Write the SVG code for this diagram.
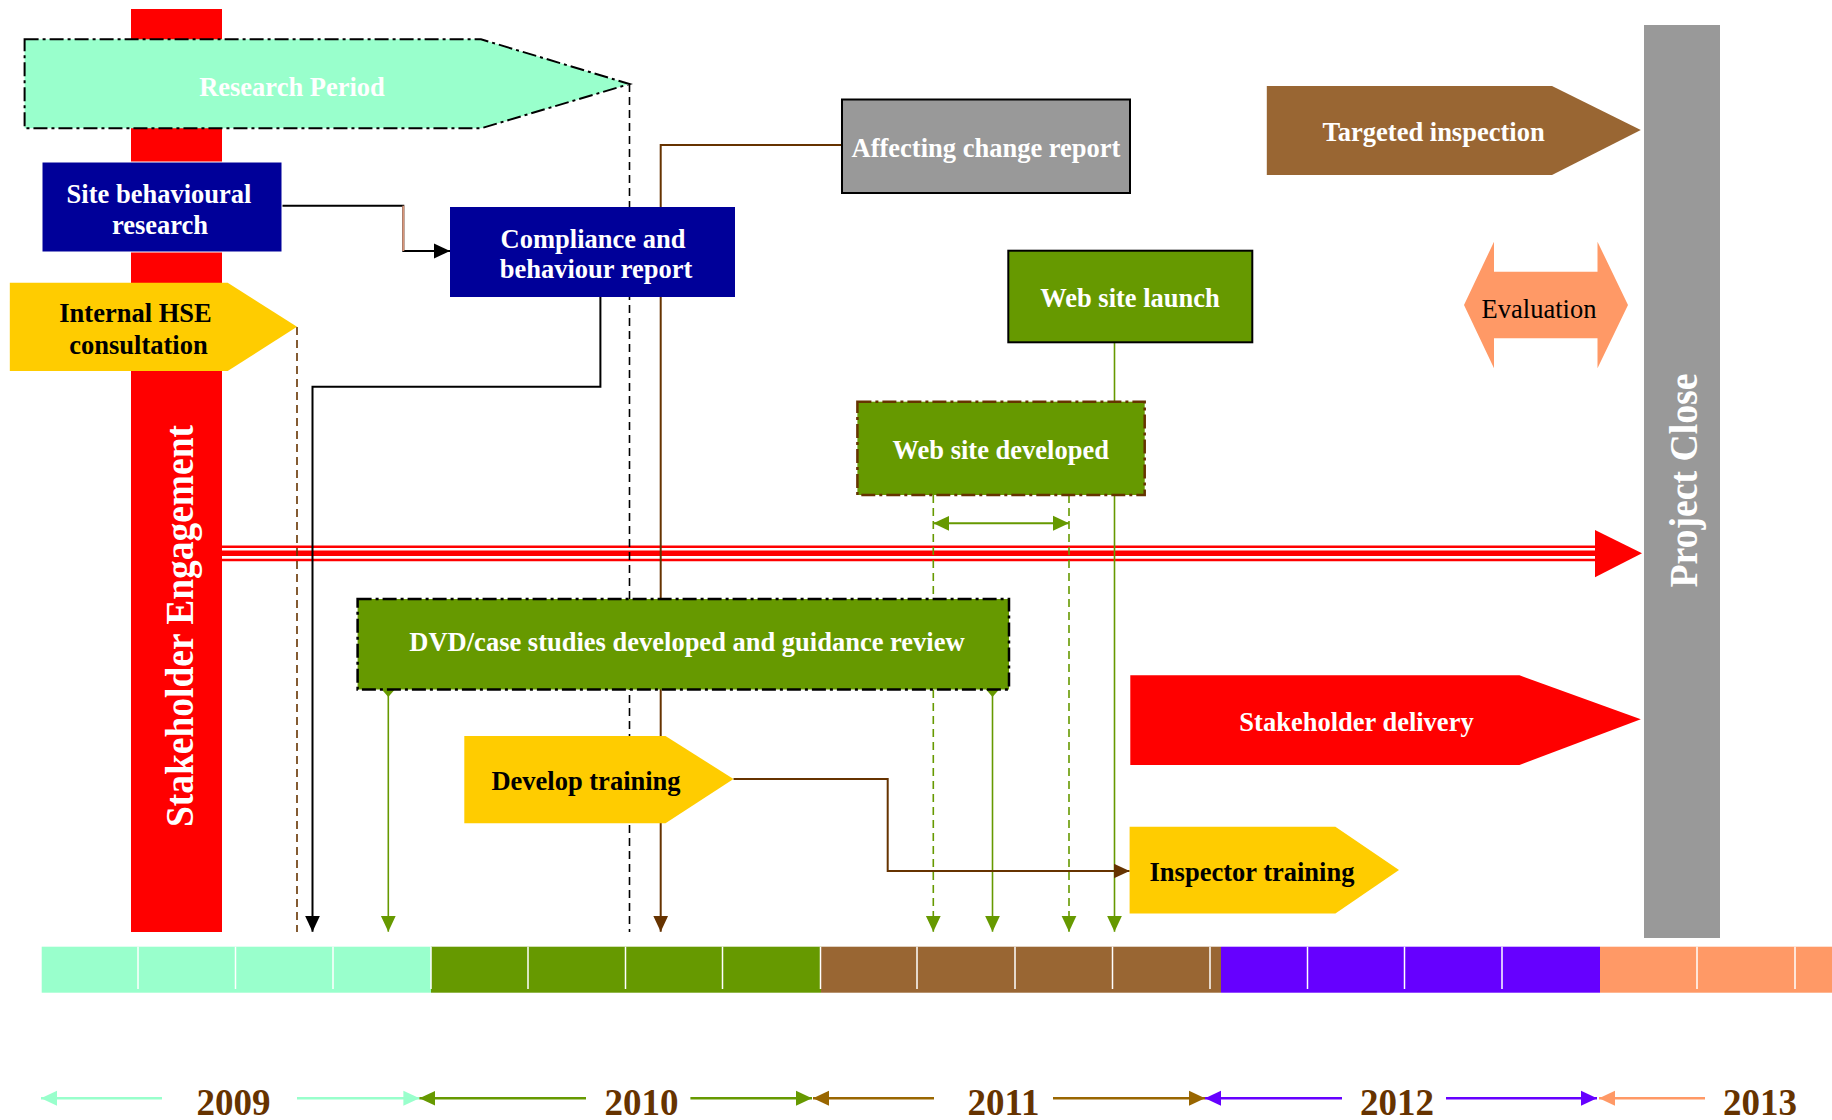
<svg xmlns="http://www.w3.org/2000/svg" width="1832" height="1120" viewBox="0 0 1832 1120">
<style>
  .lbl{font-family:"Liberation Serif","Times New Roman",serif;font-weight:bold;font-size:26.5px;text-anchor:middle}
  .w{fill:#ffffff}
  .k{fill:#000000}
  .reg{font-weight:normal}
  .yr{font-family:"Liberation Serif","Times New Roman",serif;font-weight:bold;font-size:37px;fill:#663300;text-anchor:middle}
  .big{font-family:"Liberation Serif","Times New Roman",serif;font-weight:bold;font-size:40px;fill:#ffffff;text-anchor:middle}
  .div{stroke:#ffffff;stroke-width:1.5}
  .c{fill:none}
  .blk{stroke:#000000;stroke-width:2}
  .brn{stroke:#663300;stroke-width:2}
  .grn{stroke:#669900;stroke-width:1.6}
  .dash{stroke-dasharray:8,5}
  .yl{stroke-width:2.5;fill:none}
</style>
<defs>
  <marker id="ah-k" markerUnits="userSpaceOnUse" viewBox="0 0 16 16" refX="16" refY="8" markerWidth="16" markerHeight="16" orient="auto"><path d="M0,0.5 L16,8 L0,15.5 z" fill="#000000"/></marker>
  <marker id="ah-br" markerUnits="userSpaceOnUse" viewBox="0 0 16 16" refX="16" refY="8" markerWidth="16" markerHeight="16" orient="auto"><path d="M0,0.5 L16,8 L0,15.5 z" fill="#663300"/></marker>
  <marker id="ah-g" markerUnits="userSpaceOnUse" viewBox="0 0 16 16" refX="16" refY="8" markerWidth="16" markerHeight="16" orient="auto-start-reverse"><path d="M0,0.5 L16,8 L0,15.5 z" fill="#669900"/></marker>
  <marker id="tail-g" markerUnits="userSpaceOnUse" viewBox="0 -7 9 14" refX="0" refY="0" markerWidth="9" markerHeight="14" orient="auto"><path d="M0,-7 L8,0 L0,7 z" fill="#669900"/></marker>
  <marker id="ah-mint" markerUnits="userSpaceOnUse" viewBox="0 0 16 16" refX="16" refY="8" markerWidth="16" markerHeight="16" orient="auto-start-reverse"><path d="M0,0.5 L16,8 L0,15.5 z" fill="#99FFCC"/></marker>
  <marker id="ah-gold" markerUnits="userSpaceOnUse" viewBox="0 0 16 16" refX="16" refY="8" markerWidth="16" markerHeight="16" orient="auto-start-reverse"><path d="M0,0.5 L16,8 L0,15.5 z" fill="#996600"/></marker>
  <marker id="ah-pur" markerUnits="userSpaceOnUse" viewBox="0 0 16 16" refX="16" refY="8" markerWidth="16" markerHeight="16" orient="auto-start-reverse"><path d="M0,0.5 L16,8 L0,15.5 z" fill="#6600FF"/></marker>
  <marker id="ah-sal" markerUnits="userSpaceOnUse" viewBox="0 0 16 16" refX="16" refY="8" markerWidth="16" markerHeight="16" orient="auto-start-reverse"><path d="M0,0.5 L16,8 L0,15.5 z" fill="#FF9966"/></marker>
</defs>

<rect width="1832" height="1120" fill="#ffffff"/>

<g id="stakeholder-engagement">
  <rect x="131" y="9" width="91" height="923" fill="#FF0000"/>
  <text class="big" transform="translate(193,626) rotate(-90)" textLength="402" lengthAdjust="spacingAndGlyphs">Stakeholder Engagement</text>
</g>

<g id="project-close">
  <rect x="1644" y="25" width="76" height="913" fill="#999999"/>
  <text class="big" transform="translate(1697,480.5) rotate(-90)" textLength="214" lengthAdjust="spacingAndGlyphs">Project Close</text>
</g>

<g id="timeline">
  <rect x="41.7" y="946.7" width="389.3" height="46" fill="#99FFCC"/>
  <rect x="431" y="946.7" width="390" height="46" fill="#669900"/>
  <rect x="821" y="946.7" width="400" height="46" fill="#996633"/>
  <rect x="1221" y="946.7" width="379" height="46" fill="#6600FF"/>
  <rect x="1600" y="946.7" width="232" height="46" fill="#FF9966"/>
  <g class="div">
    <line x1="138" y1="946.7" x2="138" y2="989"/>
    <line x1="235.5" y1="946.7" x2="235.5" y2="989"/>
    <line x1="333" y1="946.7" x2="333" y2="989"/>
    <line x1="431" y1="946.7" x2="431" y2="989"/>
    <line x1="528" y1="946.7" x2="528" y2="989"/>
    <line x1="625.5" y1="946.7" x2="625.5" y2="989"/>
    <line x1="722.5" y1="946.7" x2="722.5" y2="989"/>
    <line x1="820.5" y1="946.7" x2="820.5" y2="989"/>
    <line x1="917" y1="946.7" x2="917" y2="989"/>
    <line x1="1015" y1="946.7" x2="1015" y2="989"/>
    <line x1="1112.5" y1="946.7" x2="1112.5" y2="989"/>
    <line x1="1210" y1="946.7" x2="1210" y2="989"/>
    <line x1="1307.5" y1="946.7" x2="1307.5" y2="989"/>
    <line x1="1404.5" y1="946.7" x2="1404.5" y2="989"/>
    <line x1="1502" y1="946.7" x2="1502" y2="989"/>
    <line x1="1697" y1="946.7" x2="1697" y2="989"/>
    <line x1="1795" y1="946.7" x2="1795" y2="989"/>
  </g>
</g>

<g id="years">
  <path class="yl" stroke="#99FFCC" d="M41,1098.3 H162" marker-start="url(#ah-mint)"/>
  <path class="yl" stroke="#99FFCC" d="M297,1098.3 H419.4" marker-end="url(#ah-mint)"/>
  <text class="yr" x="233.6" y="1115">2009</text>
  <path class="yl" stroke="#669900" d="M419.4,1098.3 H586" marker-start="url(#ah-g)"/>
  <path class="yl" stroke="#669900" d="M690.4,1098.3 H812" marker-end="url(#ah-g)"/>
  <text class="yr" x="641.6" y="1115">2010</text>
  <path class="yl" stroke="#996600" d="M813,1098.3 H934" marker-start="url(#ah-gold)"/>
  <path class="yl" stroke="#996600" d="M1053,1098.3 H1205" marker-end="url(#ah-gold)"/>
  <text class="yr" x="1003.6" y="1115">2011</text>
  <path class="yl" stroke="#6600FF" d="M1205,1098.3 H1342" marker-start="url(#ah-pur)"/>
  <path class="yl" stroke="#6600FF" d="M1446,1098.3 H1597" marker-end="url(#ah-pur)"/>
  <text class="yr" x="1397" y="1115">2012</text>
  <path class="yl" stroke="#FF9966" d="M1599,1098.3 H1705" marker-start="url(#ah-sal)"/>
  <text class="yr" x="1760" y="1115">2013</text>
</g>

<g id="connectors">
  <g id="engagement-arrow">
    <line x1="222" y1="546.7" x2="1596" y2="546.7" stroke="#FF0000" stroke-width="2.5"/>
    <line x1="222" y1="553.2" x2="1596" y2="553.2" stroke="#FF0000" stroke-width="5.5"/>
    <line x1="222" y1="560" x2="1596" y2="560" stroke="#FF0000" stroke-width="2.5"/>
    <polygon points="1595,530 1642,553.3 1595,577.3" fill="#FF0000"/>
  </g>
  <path class="c blk" d="M282,205.7 H403.3 V251 H450" marker-end="url(#ah-k)"/>
  <line x1="403.3" y1="205.7" x2="403.3" y2="251" stroke="#D9967A" stroke-width="2"/>
  <path class="c blk" d="M600.4,297 V386.7 H312.5 V931.7" marker-end="url(#ah-k)"/>
  <path class="c brn" d="M842,145 H660.7 V931.7" marker-end="url(#ah-br)"/>
  <path class="c" stroke="#000000" stroke-width="1.6" stroke-dasharray="8,5" d="M629.5,84 V932"/>
  <path class="c" stroke="#663300" stroke-width="1.6" stroke-dasharray="8,5" d="M297,327 V932"/>
  <path class="c grn" d="M388.3,689 V931.7" marker-start="url(#tail-g)" marker-end="url(#ah-g)"/>
  <path class="c grn" d="M992.5,689 V931.7" marker-start="url(#tail-g)" marker-end="url(#ah-g)"/>
  <path class="c grn dash" d="M933.3,495 V931.7" marker-end="url(#ah-g)"/>
  <path class="c grn dash" d="M1069,495 V931.7" marker-end="url(#ah-g)"/>
  <path class="c" stroke="#669900" stroke-width="2" d="M933.3,523.3 H1069" marker-start="url(#ah-g)" marker-end="url(#ah-g)"/>
  <path class="c grn" d="M1114.5,342 V931.7" marker-end="url(#ah-g)"/>
  <path class="c brn" d="M733.5,779 H887.7 V871 H1129.6" marker-end="url(#ah-br)"/>
</g>

<g id="research-period">
  <polygon points="24.6,39.3 481,39.3 629.5,84 481,128.3 24.6,128.3" fill="#99FFCC" stroke="#000000" stroke-width="2" stroke-dasharray="14,4,3,4"/>
  <text class="lbl w" x="292" y="95.5">Research Period</text>
</g>

<g id="site-behavioural-research">
  <rect x="42" y="162" width="240" height="90" fill="#000099" stroke="#ffffff" stroke-width="1"/>
  <text class="lbl w" x="159" y="202.5">Site behavioural</text>
  <text class="lbl w" x="160" y="233.5">research</text>
</g>

<g id="compliance-behaviour-report">
  <rect x="450" y="207" width="285" height="90" fill="#000099"/>
  <text class="lbl w" x="593" y="247.5">Compliance and</text>
  <text class="lbl w" x="596" y="278">behaviour report</text>
</g>

<g id="internal-hse-consultation">
  <polygon points="9.8,282.7 227.7,282.7 297,326.7 227.7,371 9.8,371" fill="#FFCC00"/>
  <text class="lbl k" x="135.5" y="322">Internal HSE</text>
  <text class="lbl k" x="138.5" y="353.5">consultation</text>
</g>

<g id="affecting-change-report">
  <rect x="842" y="99.5" width="288" height="93.5" fill="#999999" stroke="#000000" stroke-width="2"/>
  <text class="lbl w" x="986" y="156.5">Affecting change report</text>
</g>

<g id="targeted-inspection">
  <polygon points="1266.8,86 1552,86 1640.8,130 1552,175 1266.8,175" fill="#996633"/>
  <text class="lbl w" x="1433.6" y="140.5">Targeted inspection</text>
</g>

<g id="evaluation">
  <polygon points="1494,241.7 1494,271.7 1597.5,271.7 1597.5,241.7 1628,305 1597.5,368.3 1597.5,338.3 1494,338.3 1494,368.3 1464,305" fill="#FF9966"/>
  <text class="lbl reg k" x="1539" y="317.7">Evaluation</text>
</g>

<g id="web-site-launch">
  <rect x="1008.3" y="250.7" width="244" height="91.6" fill="#669900" stroke="#000000" stroke-width="2"/>
  <text class="lbl w" x="1130" y="306.5">Web site launch</text>
</g>

<g id="web-site-developed">
  <rect x="857.4" y="401.7" width="287.3" height="93.3" fill="#669900" stroke="#663300" stroke-width="2.5" stroke-dasharray="14,4,3,4"/>
  <text class="lbl w" x="1000.7" y="458.5">Web site developed</text>
</g>

<g id="dvd-case-studies">
  <rect x="357.6" y="599" width="651.4" height="90.5" fill="#669900" stroke="#000000" stroke-width="2.5" stroke-dasharray="14,4,3,4"/>
  <text class="lbl w" x="687" y="650.5">DVD/case studies developed and guidance review</text>
</g>

<g id="stakeholder-delivery">
  <polygon points="1130.3,675.3 1519.5,675.3 1640.8,719.3 1519.5,765 1130.3,765" fill="#FF0000"/>
  <text class="lbl w" x="1356.5" y="731.3">Stakeholder delivery</text>
</g>

<g id="develop-training">
  <polygon points="464.3,736 665.5,736 733.5,779 665.5,823.3 464.3,823.3" fill="#FFCC00"/>
  <text class="lbl k" x="586" y="789.5">Develop training</text>
</g>

<g id="inspector-training">
  <polygon points="1129.6,826.7 1335.4,826.7 1399,870 1335.4,913.5 1129.6,913.5" fill="#FFCC00"/>
  <text class="lbl k" x="1252" y="880.5">Inspector training</text>
</g>
</svg>
